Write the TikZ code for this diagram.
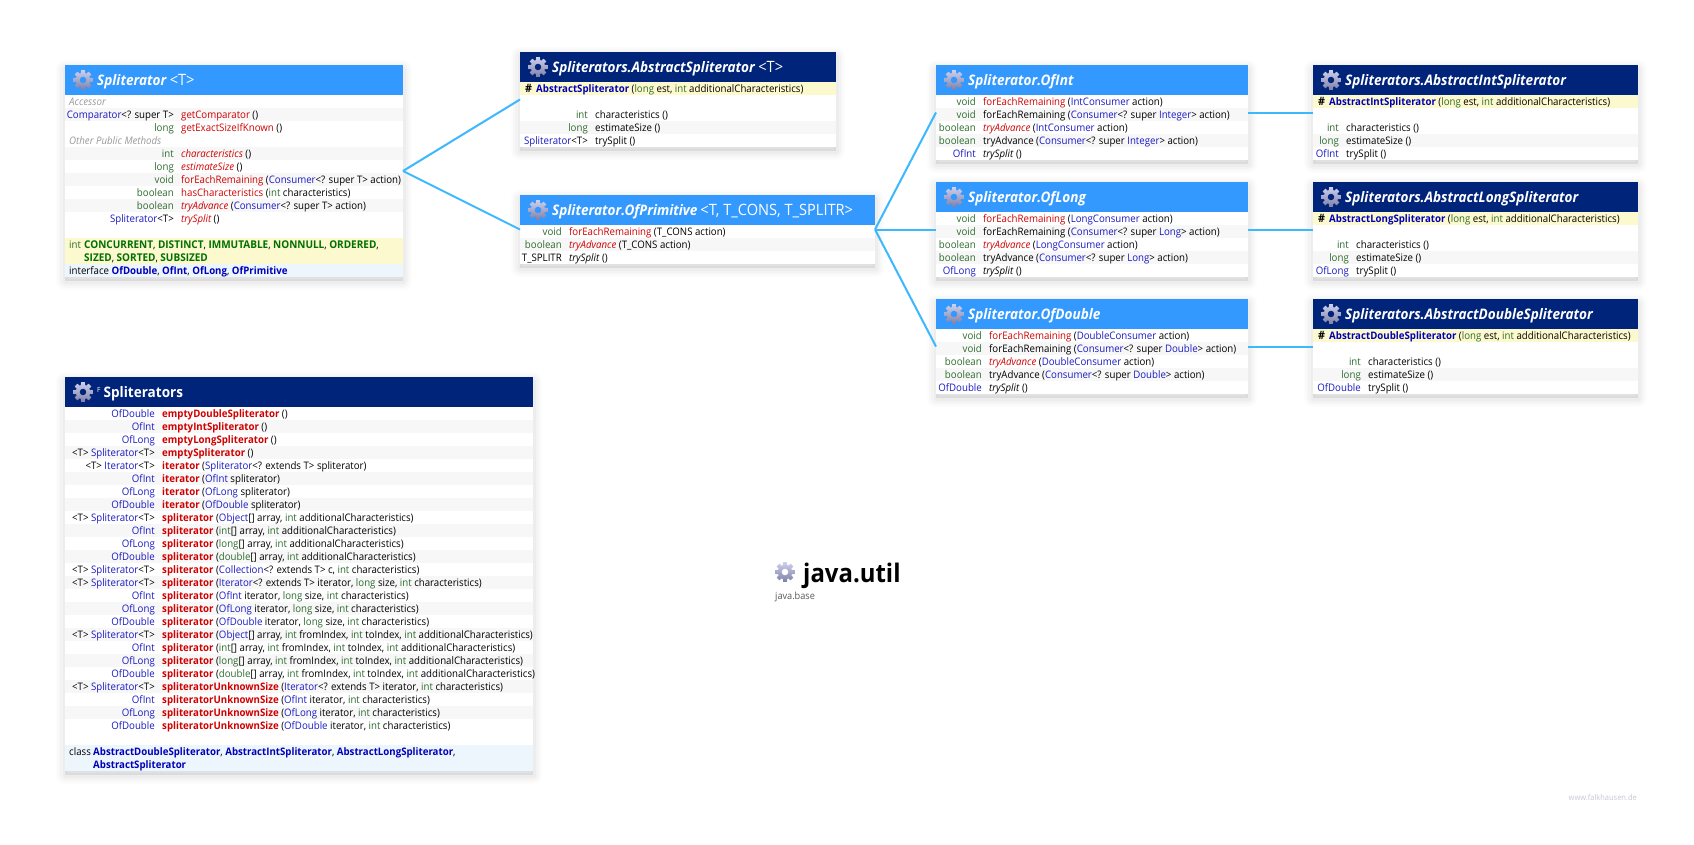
\documentclass[tikz,border=0pt]{standalone}
\usepackage{fontspec}
\setmainfont{Open Sans}[FakeStretch=0.935]
\usetikzlibrary{calc, shadows}

\definecolor{headblue}{HTML}{3399FF}
\definecolor{headnavy}{HTML}{00247A}
\definecolor{linkblue}{HTML}{3CB8FF}
\definecolor{typegreen}{HTML}{2E6B2E}
\definecolor{constgreen}{HTML}{007000}
\definecolor{classblue}{HTML}{1A1AC4}
\definecolor{boldblue}{HTML}{0000B8}
\definecolor{methodred}{HTML}{D00000}
\definecolor{ctoryellow}{HTML}{FDF9CF}
\definecolor{nestpale}{HTML}{EEF6FD}
\definecolor{rowgrey}{HTML}{F7F7F7}
\definecolor{gearlight}{HTML}{CDCFEE}
\definecolor{geardark}{HTML}{7F80A6}
\definecolor{sitegrey}{HTML}{C8C8D8}

\newcommand{\ty}[1]{\textcolor{typegreen}{#1}}
\newcommand{\cl}[1]{\textcolor{classblue}{#1}}
\newcommand{\mr}[1]{\textcolor{methodred}{#1}}
\newcommand{\mi}[1]{\textcolor{methodred}{\itshape #1}}
\newcommand{\mb}[1]{\textcolor{methodred}{\bfseries #1}}
\newcommand{\bb}[1]{\textcolor{boldblue}{\bfseries #1}}
\newcommand{\cg}[1]{\textcolor{constgreen}{\fontsize{10.7}{13}\selectfont\bfseries #1}}
\newcommand{\hd}{\makebox[11pt][l]{\textbf{\fontsize{11.5}{13}\selectfont\#}}}
\newcommand{\gen}[1]{\hspace{3pt}{\fontsize{15.6}{16}\selectfont #1}}

% box with header, gear and title
\newcommand{\classbox}[7]{%
	\node[classbody, minimum width=#4pt, minimum height=#5pt] (#1) at (#2,#3) {};
	\node[classhead, fill=#6, minimum width=#4pt] (#1-head) at (#1.north west) {};
	\pic at ($(#1.north west)+(18,15)$) {gearicon};
	\node[classtitle] (#1-title) at ($(#1.north west)+(32,20)$) {#7};
}
% row bands
\newcommand{\bands}[3]{%
	\foreach \k in {#2}
		\fill[#3] ($(#1.north west)+(0,30+13*\k)$) rectangle ($(#1.north east)+(0,43+13*\k)$);
}
% return type and signature in one row
\newcommand{\member}[4]{%
	\node[rettype] (#1-r#2) at ($(#1.north west)+(\retx,40+13*#2)$) {#3};
	\node[signature] (#1-s#2) at ($(#1.north west)+(\retx+7,40+13*#2)$) {#4};
}
\newcommand{\rowtext}[4]{%
	\node[signature] (#1-n#2) at ($(#1.north west)+(#3,40+13*#2)$) {#4};
}

\begin{document}
\begin{tikzpicture}[
		x=1pt, y=-1pt,
		softshadow/.style={
			general shadow={draw=black, fill=black, line width=18pt, opacity=.010, shadow yshift=-4pt, line join=round},
			general shadow={draw=black, fill=black, line width=14pt, opacity=.014, shadow yshift=-4pt, line join=round},
			general shadow={draw=black, fill=black, line width=10pt, opacity=.018, shadow yshift=-4pt, line join=round},
			general shadow={draw=black, fill=black, line width=5pt, opacity=.024, shadow yshift=-4pt, line join=round}
		},
		classbody/.style={anchor=north west, fill=white, inner sep=0pt, outer sep=0pt, softshadow},
		classhead/.style={anchor=north west, inner sep=0pt, outer sep=0pt, minimum height=30pt},
		classtitle/.style={anchor=base west, inner sep=0pt, text=white, font=\fontsize{14.5}{16}\selectfont},
		rettype/.style={anchor=base east, inner sep=0pt, font=\fontsize{10.35}{13}\selectfont},
		signature/.style={anchor=base west, inner sep=0pt, font=\fontsize{10.35}{13}\selectfont},
		link/.style={draw=linkblue, line width=2pt},
		stripe/.style={fill=rowgrey},
		ctor/.style={fill=ctoryellow},
		nest/.style={fill=nestpale},
		gearicon/.pic={
			\path[top color=gearlight, bottom color=geardark, even odd rule]
				(0:7.2) \foreach \a in {0,45,...,315} {
					-- (\a-17:7.2) -- (\a-11:10) -- (\a+11:10) -- (\a+17:7.2)
				} -- cycle (0,0) circle (3.4);
		}
		]
		\useasboundingbox (0,0) rectangle (1694,844);
		\fill[white] (0,0) rectangle (1694,844);
		
		% --- Spliterator ---
		\classbox{spl}{65}{65}{338}{212}{headblue}{\textbf{\textit{Spliterator}}\gen{<T>}}
		\bands{spl}{1,4,6,8}{stripe}
		\bands{spl}{11,12}{ctor}
		\bands{spl}{13}{nest}
		\def\retx{109}
		\rowtext{spl}{0}{4}{\textcolor{black!40}{\itshape Accessor}}
		\member{spl}{1}{\cl{Comparator}<? super T>}{\mr{getComparator} ()}
		\member{spl}{2}{\ty{long}}{\mr{getExactSizeIfKnown} ()}
		\rowtext{spl}{3}{4}{\textcolor{black!40}{\itshape Other Public Methods}}
		\member{spl}{4}{\ty{int}}{\mi{characteristics} ()}
		\member{spl}{5}{\ty{long}}{\mi{estimateSize} ()}
		\member{spl}{6}{\ty{void}}{\mr{forEachRemaining} (\cl{Consumer}<? super T> action)}
		\member{spl}{7}{\ty{boolean}}{\mr{hasCharacteristics} (\ty{int} characteristics)}
		\member{spl}{8}{\ty{boolean}}{\mi{tryAdvance} (\cl{Consumer}<? super T> action)}
		\member{spl}{9}{\cl{Spliterator}<T>}{\mi{trySplit} ()}
		\rowtext{spl}{11}{4}{\makebox[15pt][l]{\ty{int}}\cg{CONCURRENT}, \cg{DISTINCT}, \cg{IMMUTABLE}, \cg{NONNULL}, \cg{ORDERED},}
		\rowtext{spl}{12}{19}{\cg{SIZED}, \cg{SORTED}, \cg{SUBSIZED}}
		\rowtext{spl}{13}{4}{interface \bb{OfDouble}, \bb{OfInt}, \bb{OfLong}, \bb{OfPrimitive}}
		
		% --- Spliterators.AbstractSpliterator ---
		\classbox{abs}{520}{52}{316}{95}{headnavy}{\textbf{\textit{Spliterators.AbstractSpliterator}}\gen{<T>}}
		\bands{abs}{0}{ctor}
		\bands{abs}{3}{stripe}
		\def\retx{68}
		\rowtext{abs}{0}{5}{\hd\bb{AbstractSpliterator} (\ty{long} est, \ty{int} additionalCharacteristics)}
		\member{abs}{2}{\ty{int}}{characteristics ()}
		\member{abs}{3}{\ty{long}}{estimateSize ()}
		\member{abs}{4}{\cl{Spliterator}<T>}{trySplit ()}
		
		% --- Spliterator.OfPrimitive ---
		\classbox{prim}{520}{195}{355}{69}{headblue}{\textbf{\textit{Spliterator.OfPrimitive}}\gen{<T, T\_CONS, T\_SPLITR>}}
		\bands{prim}{1}{stripe}
		\def\retx{42}
		\member{prim}{0}{\ty{void}}{\mr{forEachRemaining} (T\_CONS action)}
		\member{prim}{1}{\ty{boolean}}{\mi{tryAdvance} (T\_CONS action)}
		\member{prim}{2}{T\_SPLITR}{\textit{trySplit} ()}
		
		% --- Spliterator.OfInt ---
		\classbox{int}{936}{65}{312}{95}{headblue}{\textbf{\textit{Spliterator.OfInt}}}
		\bands{int}{1,3}{stripe}
		\def\retx{40}
		\member{int}{0}{\ty{void}}{\mr{forEachRemaining} (\cl{IntConsumer} action)}
		\member{int}{1}{\ty{void}}{forEachRemaining (\cl{Consumer}<? super \cl{Integer}> action)}
		\member{int}{2}{\ty{boolean}}{\mi{tryAdvance} (\cl{IntConsumer} action)}
		\member{int}{3}{\ty{boolean}}{tryAdvance (\cl{Consumer}<? super \cl{Integer}> action)}
		\member{int}{4}{\cl{OfInt}}{\textit{trySplit} ()}
		
		% --- Spliterator.OfLong ---
		\classbox{long}{936}{182}{312}{95}{headblue}{\textbf{\textit{Spliterator.OfLong}}}
		\bands{long}{1,3}{stripe}
		\member{long}{0}{\ty{void}}{\mr{forEachRemaining} (\cl{LongConsumer} action)}
		\member{long}{1}{\ty{void}}{forEachRemaining (\cl{Consumer}<? super \cl{Long}> action)}
		\member{long}{2}{\ty{boolean}}{\mi{tryAdvance} (\cl{LongConsumer} action)}
		\member{long}{3}{\ty{boolean}}{tryAdvance (\cl{Consumer}<? super \cl{Long}> action)}
		\member{long}{4}{\cl{OfLong}}{\textit{trySplit} ()}
		
		% --- Spliterator.OfDouble ---
		\classbox{dbl}{936}{299}{312}{95}{headblue}{\textbf{\textit{Spliterator.OfDouble}}}
		\bands{dbl}{1,3}{stripe}
		\def\retx{46}
		\member{dbl}{0}{\ty{void}}{\mr{forEachRemaining} (\cl{DoubleConsumer} action)}
		\member{dbl}{1}{\ty{void}}{forEachRemaining (\cl{Consumer}<? super \cl{Double}> action)}
		\member{dbl}{2}{\ty{boolean}}{\mi{tryAdvance} (\cl{DoubleConsumer} action)}
		\member{dbl}{3}{\ty{boolean}}{tryAdvance (\cl{Consumer}<? super \cl{Double}> action)}
		\member{dbl}{4}{\cl{OfDouble}}{\textit{trySplit} ()}
		
		% --- Spliterators.AbstractIntSpliterator ---
		\classbox{absint}{1313}{65}{325}{95}{headnavy}{\textbf{\textit{Spliterators.AbstractIntSpliterator}}}
		\bands{absint}{0}{ctor}
		\bands{absint}{3}{stripe}
		\def\retx{26}
		\rowtext{absint}{0}{5}{\hd\bb{AbstractIntSpliterator} (\ty{long} est, \ty{int} additionalCharacteristics)}
		\member{absint}{2}{\ty{int}}{characteristics ()}
		\member{absint}{3}{\ty{long}}{estimateSize ()}
		\member{absint}{4}{\cl{OfInt}}{trySplit ()}
		
		% --- Spliterators.AbstractLongSpliterator ---
		\classbox{abslong}{1313}{182}{325}{95}{headnavy}{\textbf{\textit{Spliterators.AbstractLongSpliterator}}}
		\bands{abslong}{0}{ctor}
		\bands{abslong}{3}{stripe}
		\def\retx{36}
		\rowtext{abslong}{0}{5}{\hd\bb{AbstractLongSpliterator} (\ty{long} est, \ty{int} additionalCharacteristics)}
		\member{abslong}{2}{\ty{int}}{characteristics ()}
		\member{abslong}{3}{\ty{long}}{estimateSize ()}
		\member{abslong}{4}{\cl{OfLong}}{trySplit ()}
		
		% --- Spliterators.AbstractDoubleSpliterator ---
		\classbox{absdbl}{1313}{299}{325}{95}{headnavy}{\textbf{\textit{Spliterators.AbstractDoubleSpliterator}}}
		\bands{absdbl}{0}{ctor}
		\bands{absdbl}{3}{stripe}
		\def\retx{48}
		\rowtext{absdbl}{0}{5}{\hd\bb{AbstractDoubleSpliterator} (\ty{long} est, \ty{int} additionalCharacteristics)}
		\member{absdbl}{2}{\ty{int}}{characteristics ()}
		\member{absdbl}{3}{\ty{long}}{estimateSize ()}
		\member{absdbl}{4}{\cl{OfDouble}}{trySplit ()}
		
		% --- Spliterators ---
		\classbox{spls}{65}{377}{468}{394}{headnavy}{\raisebox{5pt}{\fontsize{7}{8}\selectfont F}\hspace{3pt}\textbf{Spliterators}}
		\bands{spls}{1,3,...,23}{stripe}
		\bands{spls}{26,27}{nest}
		\def\retx{90}
		\member{spls}{0}{\cl{OfDouble}}{\mb{emptyDoubleSpliterator} ()}
		\member{spls}{1}{\cl{OfInt}}{\mb{emptyIntSpliterator} ()}
		\member{spls}{2}{\cl{OfLong}}{\mb{emptyLongSpliterator} ()}
		\member{spls}{3}{<T> \cl{Spliterator}<T>}{\mb{emptySpliterator} ()}
		\member{spls}{4}{<T> \cl{Iterator}<T>}{\mb{iterator} (\cl{Spliterator}<? extends T> spliterator)}
		\member{spls}{5}{\cl{OfInt}}{\mb{iterator} (\cl{OfInt} spliterator)}
		\member{spls}{6}{\cl{OfLong}}{\mb{iterator} (\cl{OfLong} spliterator)}
		\member{spls}{7}{\cl{OfDouble}}{\mb{iterator} (\cl{OfDouble} spliterator)}
		\member{spls}{8}{<T> \cl{Spliterator}<T>}{\mb{spliterator} (\cl{Object}[] array, \ty{int} additionalCharacteristics)}
		\member{spls}{9}{\cl{OfInt}}{\mb{spliterator} (\ty{int}[] array, \ty{int} additionalCharacteristics)}
		\member{spls}{10}{\cl{OfLong}}{\mb{spliterator} (\ty{long}[] array, \ty{int} additionalCharacteristics)}
		\member{spls}{11}{\cl{OfDouble}}{\mb{spliterator} (\ty{double}[] array, \ty{int} additionalCharacteristics)}
		\member{spls}{12}{<T> \cl{Spliterator}<T>}{\mb{spliterator} (\cl{Collection}<? extends T> c, \ty{int} characteristics)}
		\member{spls}{13}{<T> \cl{Spliterator}<T>}{\mb{spliterator} (\cl{Iterator}<? extends T> iterator, \ty{long} size, \ty{int} characteristics)}
		\member{spls}{14}{\cl{OfInt}}{\mb{spliterator} (\cl{OfInt} iterator, \ty{long} size, \ty{int} characteristics)}
		\member{spls}{15}{\cl{OfLong}}{\mb{spliterator} (\cl{OfLong} iterator, \ty{long} size, \ty{int} characteristics)}
		\member{spls}{16}{\cl{OfDouble}}{\mb{spliterator} (\cl{OfDouble} iterator, \ty{long} size, \ty{int} characteristics)}
		\member{spls}{17}{<T> \cl{Spliterator}<T>}{\mb{spliterator} (\cl{Object}[] array, \ty{int} fromIndex, \ty{int} toIndex, \ty{int} additionalCharacteristics)}
		\member{spls}{18}{\cl{OfInt}}{\mb{spliterator} (\ty{int}[] array, \ty{int} fromIndex, \ty{int} toIndex, \ty{int} additionalCharacteristics)}
		\member{spls}{19}{\cl{OfLong}}{\mb{spliterator} (\ty{long}[] array, \ty{int} fromIndex, \ty{int} toIndex, \ty{int} additionalCharacteristics)}
		\member{spls}{20}{\cl{OfDouble}}{\mb{spliterator} (\ty{double}[] array, \ty{int} fromIndex, \ty{int} toIndex, \ty{int} additionalCharacteristics)}
		\member{spls}{21}{<T> \cl{Spliterator}<T>}{\mb{spliteratorUnknownSize} (\cl{Iterator}<? extends T> iterator, \ty{int} characteristics)}
		\member{spls}{22}{\cl{OfInt}}{\mb{spliteratorUnknownSize} (\cl{OfInt} iterator, \ty{int} characteristics)}
		\member{spls}{23}{\cl{OfLong}}{\mb{spliteratorUnknownSize} (\cl{OfLong} iterator, \ty{int} characteristics)}
		\member{spls}{24}{\cl{OfDouble}}{\mb{spliteratorUnknownSize} (\cl{OfDouble} iterator, \ty{int} characteristics)}
		\rowtext{spls}{26}{4}{\makebox[24pt][l]{class}\bb{AbstractDoubleSpliterator}, \bb{AbstractIntSpliterator}, \bb{AbstractLongSpliterator},}
		\rowtext{spls}{27}{28}{\bb{AbstractSpliterator}}
		
		% --- Connectors ---
		\draw[link] (spl.east) -- (abs.west);
		\draw[link] (spl.east) -- (prim.west);
		\draw[link] (prim.east) -- (int.west);
		\draw[link] (prim.east) -- (long.west);
		\draw[link] (prim.east) -- (dbl.west);
		\draw[link] (int.east) -- (absint.west);
		\draw[link] (long.east) -- (abslong.west);
		\draw[link] (dbl.east) -- (absdbl.west);
		
		% --- Package name ---
		\pic at (785,572) {gearicon};
		\node[anchor=base west, inner sep=0pt, font=\fontsize{25.6}{28}\selectfont\bfseries] (pkg) at (803,582) {java.util};
		\node[anchor=base west, inner sep=0pt, text=black!65, font=\fontsize{9.8}{12}\selectfont] (mod) at (775,599) {java.base};
		\node[anchor=base east, inner sep=0pt, text=sitegrey, font=\fontsize{8}{9}\selectfont] (site) at (1637,800) {www.falkhausen.de};
	\end{tikzpicture}
\end{document}
